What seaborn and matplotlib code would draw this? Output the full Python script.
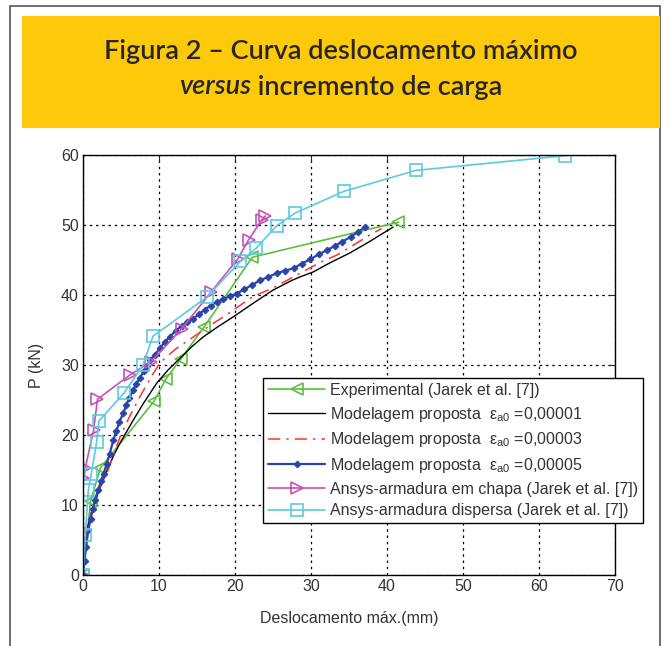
import matplotlib
matplotlib.use("Agg")
import matplotlib.pyplot as plt
import seaborn as sns
from matplotlib.patches import Rectangle

# ---------------- data ----------------
exp_x = [0, 1.0, 2.3, 9.4, 10.9, 12.9, 15.9, 22.3, 41.5]
exp_y = [0, 10.6, 15.3, 24.9, 28.0, 30.9, 35.4, 45.4, 50.4]

m1_x = [0, 0.3, 1.0, 1.8, 3.0, 4.0, 4.9, 6.6, 8.0, 9.7, 11.2, 12.8, 14.3, 15.8, 17.8,
        19.8, 22.5, 25.0, 27.5, 28.6, 30.3, 32.5, 35.1, 37.5, 40.8]
m1_y = [0, 5.5, 8.5, 11.2, 14.5, 17.0, 18.9, 22.1, 24.6, 27.4, 29.3, 31.0, 32.6, 34.0, 35.5,
        36.9, 38.9, 40.7, 42.1, 42.6, 43.3, 44.6, 46.0, 47.5, 49.7]

m3_x = [0, 0.4, 0.9, 2.0, 3.3, 4.9, 6.2, 7.5, 8.8, 10.1, 12.2, 14.5, 16.5, 18.5, 20.5,
        22.4, 25.0, 27.7, 29.4, 31.5, 33.4, 36.0, 37.3, 39.3]
m3_y = [0, 5.0, 8.3, 12.0, 15.0, 19.8, 22.8, 25.5, 28.0, 30.3, 32.3, 34.0, 35.5, 36.9, 38.4,
        39.8, 41.0, 42.6, 43.6, 44.8, 45.7, 47.4, 48.3, 49.5]

m5_x = [0, 0.2, 0.4, 0.7, 1.0, 1.3, 1.6, 2.0, 2.4, 2.7, 3.1, 3.5, 4.0, 4.4, 4.8, 5.3, 5.7,
        6.1, 6.6, 7.0, 7.5, 8.0, 8.4, 8.8, 9.5, 10.1, 10.8, 11.4, 12.2, 13.0, 13.7, 14.5,
        15.3, 16.0, 16.8, 17.6, 18.4, 19.3, 20.2, 21.2, 22.2, 23.3, 24.4, 25.5, 26.6, 27.7,
        28.8, 29.9, 31.0, 32.1, 33.1, 34.1, 35.2, 36.2, 37.1]
m5_y = [0, 2.0, 4.0, 6.4, 8.0, 9.5, 10.7, 12.2, 13.5, 14.5, 15.8, 17.3, 19.3, 20.6, 21.9,
        23.1, 24.3, 25.3, 26.4, 27.3, 28.2, 29.1, 29.8, 30.7, 31.5, 32.4, 33.3, 34.0, 34.9,
        35.6, 36.1, 36.6, 37.3, 37.9, 38.5, 39.0, 39.4, 39.8, 40.2, 40.8, 41.4, 42.1, 42.6,
        43.1, 43.5, 43.8, 44.5, 45.1, 45.8, 46.4, 47.0, 47.6, 48.3, 49.0, 49.7]

chapa_x = [0, 0, 0, 0.3, 1.4, 1.9, 6.2, 9.0, 13.0, 16.9, 20.4, 21.8, 23.5, 24.0]
chapa_y = [0, 6.4, 13.8, 15.3, 20.7, 25.1, 28.6, 30.5, 35.2, 40.5, 45.2, 47.9, 50.7, 51.3]

disp_x = [0, 0.3, 0.7, 1.1, 1.8, 2.1, 5.4, 7.9, 9.2, 16.3, 20.7, 22.8, 25.5, 27.9, 34.3, 43.8, 63.4]
disp_y = [0, 5.7, 12.1, 14.5, 19.0, 22.0, 26.0, 30.0, 34.1, 39.7, 44.8, 46.7, 49.9, 51.7, 54.8, 57.8, 59.9]

labels = [
    "Experimental (Jarek et al. [7])",
    "Modelagem proposta  ε$_{a0}$ =0,00001",
    "Modelagem proposta  ε$_{a0}$ =0,00003",
    "Modelagem proposta  ε$_{a0}$ =0,00005",
    "Ansys-armadura em chapa (Jarek et al. [7])",
    "Ansys-armadura dispersa (Jarek et al. [7])",
]
x_ticks = [0, 10, 20, 30, 40, 50, 60, 70]
y_ticks = [0, 10, 20, 30, 40, 50, 60]

# ---------------- figure ----------------
sns.set_theme(style="white")
plt.rcParams["font.family"] = ["Liberation Sans", "DejaVu Sans"]
plt.rcParams["mathtext.fontset"] = "custom"
plt.rcParams["mathtext.rm"] = "Liberation Sans"
plt.rcParams["mathtext.it"] = "Liberation Sans"
plt.rcParams["mathtext.default"] = "regular"

fig = plt.figure(figsize=(6.71, 6.46), dpi=100)
W, H = 671, 646


def fr(x0, y0, x1, y1):
    return (x0 / W, 1 - y1 / H), (x1 - x0) / W, (y1 - y0) / H


xy, w, h = fr(10, 6, 660, 660)
fig.patches.append(Rectangle(xy, w, h, transform=fig.transFigure, fill=False,
                             edgecolor="#555555", linewidth=1.2, zorder=0))
xy, w, h = fr(22, 16, 660, 128)
fig.patches.append(Rectangle(xy, w, h, transform=fig.transFigure, facecolor="#FFC90B",
                             edgecolor="none", zorder=1))

TFS = 19.5
TFAM = ["Lato", "DejaVu Sans"]
TW = "semibold"
fig.text(341 / W, 1 - 52 / H, "Figura 2 – Curva deslocamento máximo", ha="center",
         va="center", fontsize=TFS, family=TFAM, weight=TW, color="#262626")

t1 = fig.text(0, 0, "versus", fontsize=TFS, style="italic", family=TFAM,
              weight=TW, color="#262626")
t2 = fig.text(0, 0, " incremento de carga", fontsize=TFS, family=TFAM,
              weight=TW, color="#262626")
fig.canvas.draw()
r = fig.canvas.get_renderer()
w1 = t1.get_window_extent(r).width
w2 = t2.get_window_extent(r).width
x0 = 341 - (w1 + w2) / 2
t1.set_position((x0 / W, 1 - 87 / H))
t1.set_va("center")
t2.set_position(((x0 + w1) / W, 1 - 87 / H))
t2.set_va("center")

ax = fig.add_axes([83 / W, 1 - 575 / H, (615 - 83) / W, (575 - 155) / H])
ax.set_facecolor("white")

sns.lineplot(x=exp_x, y=exp_y, sort=False, estimator=None, ax=ax, color="#5CBF3F",
             lw=1.2, marker="<", markersize=9, markerfacecolor="none",
             markeredgecolor="#5CBF3F", markeredgewidth=1.2, label=labels[0])
sns.lineplot(x=m1_x, y=m1_y, sort=False, estimator=None, ax=ax, color="black",
             lw=1.0, label=labels[1])
sns.lineplot(x=m3_x, y=m3_y, sort=False, estimator=None, ax=ax, color="#FF3030",
             lw=1.1, label=labels[2])
ax.lines[-1].set_linestyle((0, (8, 4, 1.5, 4)))
sns.lineplot(x=m5_x, y=m5_y, sort=False, estimator=None, ax=ax, color="#2B44A8",
             lw=1.6, marker="D", markersize=3.4, markeredgecolor="#2B44A8",
             label=labels[3])
sns.lineplot(x=chapa_x, y=chapa_y, sort=False, estimator=None, ax=ax, color="#C452B8",
             lw=1.2, marker=">", markersize=9, markerfacecolor="none",
             markeredgecolor="#C452B8", markeredgewidth=1.2, label=labels[4])
sns.lineplot(x=disp_x, y=disp_y, sort=False, estimator=None, ax=ax, color="#5CCAE0",
             lw=1.2, marker="s", markersize=8, markerfacecolor="none",
             markeredgecolor="#5CCAE0", markeredgewidth=1.2, label=labels[5])

FS = 11.5
ax.set_xlim(0, 70)
ax.set_ylim(0, 60)
ax.set_xticks(x_ticks)
ax.set_yticks(y_ticks)
ax.grid(True, color="black", linestyle=(0, (2, 3)), linewidth=0.9)
ax.tick_params(direction="in", length=5, width=0.8, top=True, right=True,
               labelsize=FS, labelcolor="#333333", pad=3)
for s in ax.spines.values():
    s.set_color("black")
    s.set_linewidth(1.0)
    s.set_visible(True)
ax.set_xlabel("Deslocamento máx.(mm)", fontsize=FS, color="#333333", labelpad=12)
ax.set_ylabel("P (kN)", fontsize=FS, color="#333333", labelpad=12)

leg = ax.legend(loc="upper left", bbox_to_anchor=((263 - 83) / 532, (575 - 378) / 420),
                frameon=True, fancybox=False, edgecolor="black", framealpha=1,
                fontsize=FS, handlelength=3.6, numpoints=1, borderpad=0.3,
                labelspacing=0.42, handletextpad=0.3, borderaxespad=0)
leg.get_frame().set_linewidth(1.0)
for t in leg.get_texts():
    t.set_color("#333333")
leg.set_clip_on(False)

fig.savefig("out.png", dpi=100)
